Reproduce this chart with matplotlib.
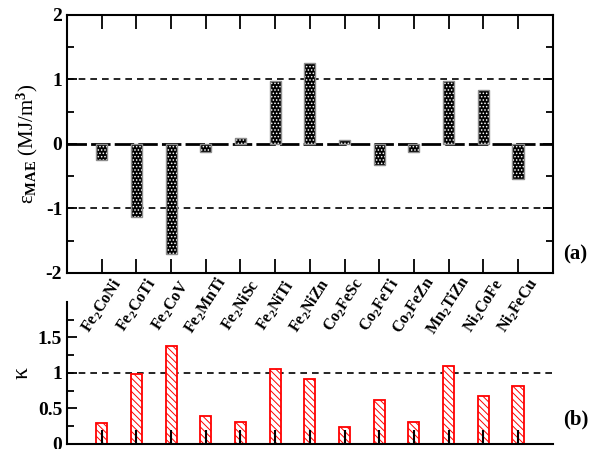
import matplotlib
matplotlib.use("Agg")
import matplotlib.pyplot as plt
import numpy as np

plt.rcParams['font.family'] = ['Liberation Serif', 'DejaVu Serif']
plt.rcParams['font.weight'] = 'bold'
plt.rcParams['axes.unicode_minus'] = False
plt.rcParams['mathtext.fontset'] = 'custom'
plt.rcParams['mathtext.rm'] = 'Liberation Serif:bold'
plt.rcParams['mathtext.it'] = 'Liberation Serif:bold'
plt.rcParams['mathtext.bf'] = 'Liberation Serif:bold'
plt.rcParams['hatch.linewidth'] = 0.7

# data
compounds = ['Fe$_2$CoNi', 'Fe$_2$CoTi', 'Fe$_2$CoV', 'Fe$_2$MnTi', 'Fe$_2$NiSc',
             'Fe$_2$NiTi', 'Fe$_2$NiZn', 'Co$_2$FeSc', 'Co$_2$FeTi', 'Co$_2$FeZn',
             'Mn$_2$TiZn', 'Ni$_2$CoFe', 'Ni$_2$FeCu']
mae = [-0.25, -1.13, -1.70, -0.12, 0.10, 0.98, 1.25, 0.06, -0.32, -0.12, 0.98, 0.83, -0.55]
kappa = [0.29, 0.98, 1.38, 0.39, 0.31, 1.06, 0.92, 0.23, 0.62, 0.30, 1.09, 0.68, 0.82]

x = np.arange(1, len(compounds) + 1)
w = 0.32

fig = plt.figure(figsize=(5.89, 4.49), dpi=100)
ax1 = fig.add_axes([0.1138, 0.392, 0.8246, 0.5746])
ax2 = fig.add_axes([0.1138, 0.0118, 0.8246, 0.3156])

# --- top panel (a)
ax1.axhline(1, color='black', lw=1.2, ls=(0, (4, 3)), zorder=1)
ax1.axhline(-1, color='black', lw=1.2, ls=(0, (4, 3)), zorder=1)
ax1.axhline(0, color='black', lw=2, ls=(0, (7, 1.5)), zorder=1)
ax1.bar(x, mae, width=w, facecolor='black', edgecolor='white', hatch='.....', lw=0, zorder=2)
ax1.bar(x, mae, width=w, fill=False, edgecolor='0.55', lw=1, zorder=3)
ax1.set_xlim(0, 14)
ax1.set_ylim(-2, 2)
ax1.set_yticks([-2, -1, 0, 1, 2])
ax1.set_yticks([-1.5, -0.5, 0.5, 1.5], minor=True)
ax1.set_xticks(x)
ax1.set_xticklabels([])
ax1.tick_params(axis='both', which='both', direction='in', top=True, right=True,
                width=1.3, labelsize=14)
ax1.tick_params(axis='x', length=10)
ax1.tick_params(axis='y', which='major', length=7)
ax1.tick_params(axis='y', which='minor', length=5)
for s in ax1.spines.values():
    s.set_linewidth(1.5)
ax1.set_ylabel('ε$_\\mathrm{MAE}$ (MJ/m$^\\mathrm{3}$)', fontsize=15, labelpad=4)
ax1.text(1.022, 0.07, '(a)', transform=ax1.transAxes, fontsize=15, fontweight='bold',
         ha='left', va='center')
plt.setp(ax1.get_yticklabels(), fontweight='bold')

# --- bottom panel (b)
ax2.set_axisbelow(False)
ax2.axhline(1, color='black', lw=1.2, ls=(0, (4, 3)), zorder=1)
ax2.bar(x, kappa, width=w, facecolor='white', edgecolor='red', hatch='\\\\\\\\\\', lw=1.3, zorder=2)
ax2.set_xlim(0, 14)
ax2.set_ylim(0, 2)
ax2.set_yticks([0, 0.5, 1, 1.5])
ax2.set_yticklabels(['0', '0.5', '1', '1.5'])
ax2.set_yticks([0.25, 0.75, 1.25, 1.75], minor=True)
ax2.set_xticks(x)
ax2.set_xticklabels([])
ax2.spines['top'].set_visible(False)
ax2.spines['right'].set_visible(False)
for s in ['left', 'bottom']:
    ax2.spines[s].set_linewidth(1.5)
ax2.tick_params(axis='both', which='both', direction='in', width=1.3, labelsize=14)
ax2.tick_params(axis='x', length=10, width=1.5)
ax2.tick_params(axis='y', which='major', length=7)
ax2.tick_params(axis='y', which='minor', length=5)
ax2.set_ylabel('κ', fontsize=17, labelpad=4)
ax2.text(1.022, 0.17, '(b)', transform=ax2.transAxes, fontsize=15, fontweight='bold',
         ha='left', va='center')
plt.setp(ax2.get_yticklabels(), fontweight='bold')

# category labels between panels
for xi, name in zip(x, compounds):
    ax2.text(xi, 1.95, name, fontsize=11.5, fontweight='bold', rotation=57,
             ha='center', va='center', rotation_mode='anchor', clip_on=False)

fig.savefig('out.png', dpi=100)
